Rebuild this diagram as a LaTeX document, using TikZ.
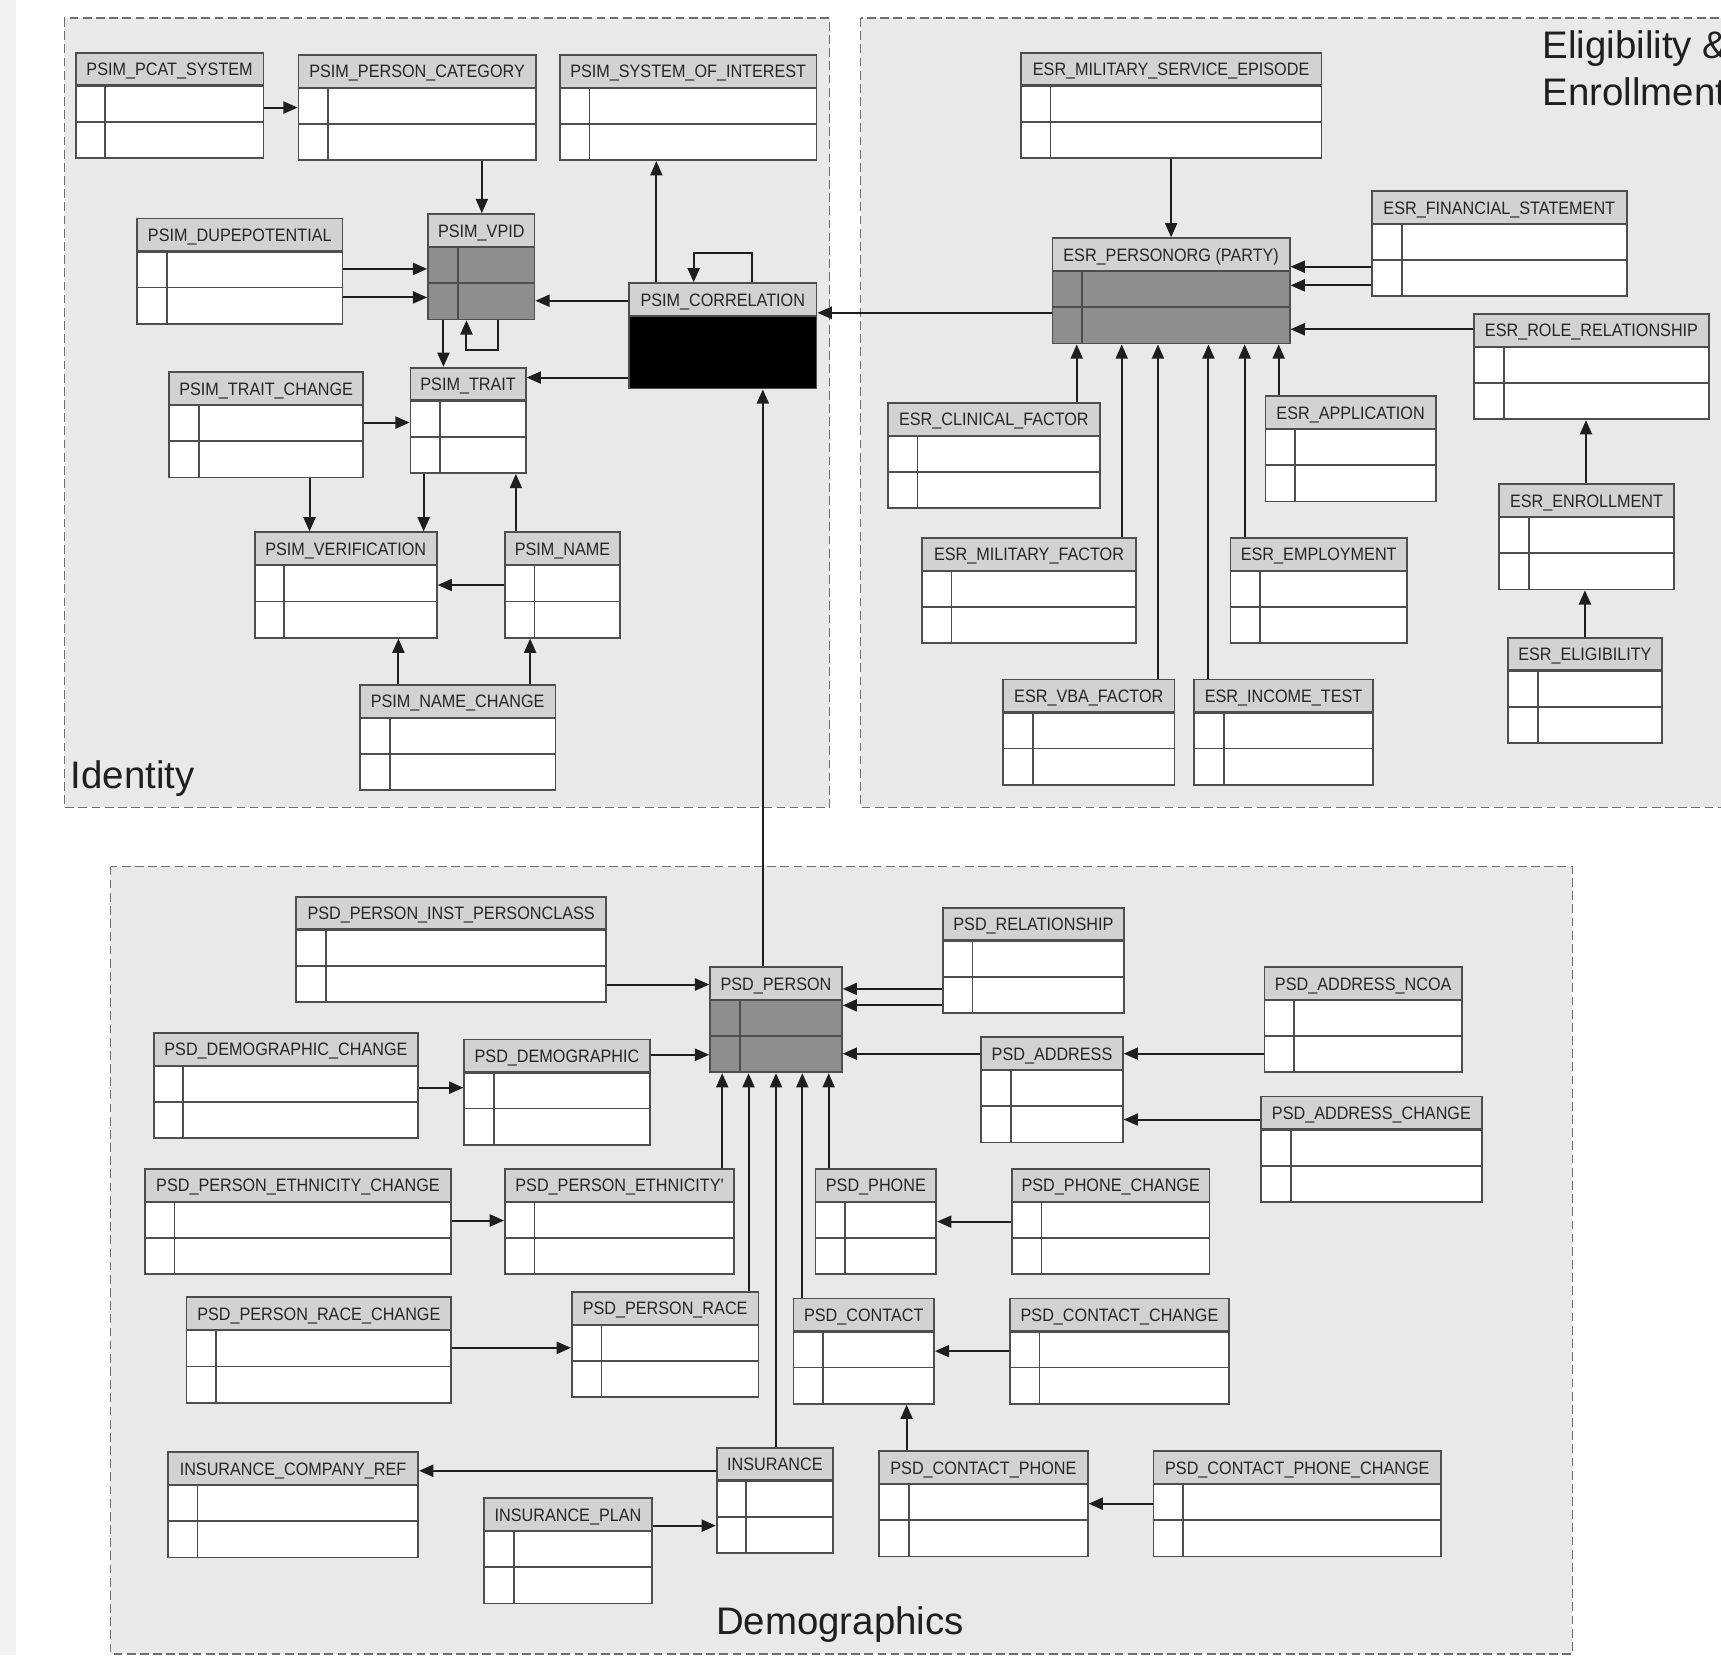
\documentclass[tikz,border=0pt]{standalone}
\usepackage{fontspec}
\setmainfont{Liberation Sans}
\newfontfamily\tabfont[FakeStretch=0.9]{Liberation Sans}
\usetikzlibrary{arrows.meta,fit}

\definecolor{grpfill}{HTML}{E9E9E9}
\definecolor{grpline}{HTML}{6E6E6E}
\definecolor{hdrfill}{HTML}{D2D2D2}
\definecolor{darkbody}{HTML}{8E8E8E}
\definecolor{tblline}{HTML}{4E4E4E}
\definecolor{connline}{HTML}{1E1E1E}
\definecolor{edgestrip}{HTML}{F2F2F2}

\tikzset{
  group/.style={draw=grpline, fill=grpfill, line width=0.55pt, dash pattern=on 4pt off 2pt},
  tbl/.style={draw=tblline, line width=0.8pt, inner sep=0pt},
  tblrule/.style={draw=tblline, line width=0.8pt},
  hdrrule/.style={draw=tblline, line width=1.1pt},
  conn/.style={draw=connline, line width=0.9pt, -{Triangle[length=6.5pt,width=5.5pt]}},
  title/.style={font=\tabfont\fontsize{8.2}{9}\selectfont, text=black!85, inner sep=0pt, anchor=base},
  biglabel/.style={font=\fontsize{17.5}{21}\selectfont, text=black!88, inner sep=0pt, anchor=base west},
}

% table: name, left, top, right, title, body colour
\newcommand\dbtable[6]{%
  \fill[#6] (#2,{#3+30}) rectangle (#4,{#3+96});
  \fill[hdrfill] (#2,#3) rectangle (#4,{#3+30});
  \draw[tblrule] (#2,{#3+63}) -- (#4,{#3+63});
  \draw[tblrule] ({#2+27},{#3+30}) -- ({#2+27},{#3+96});
  \draw[hdrrule] (#2,{#3+30}) -- (#4,{#3+30});
  \node[tbl, fit={(#2,#3) (#4,{#3+96})}] (#1) {};
  \node[title] (#1-t) at ({(#2+#4)/2},{#3+21}) {#5};
}

\begin{document}
\begin{tikzpicture}[x=0.5pt,y=-0.5pt]
\useasboundingbox (0,0) rectangle (1568,1508);
\clip (0,0) rectangle (1568,1508);
\fill[white] (0,0) rectangle (1568,1508);
\fill[edgestrip] (0,0) rectangle (15,1508);

% subject areas
\path[group] (58.5,16.5) rectangle (756,735.5);
\path[group] (784,16.5) rectangle (1620,735.5);
\path[group] (101,789.5) rectangle (1432.5,1507);
\node[biglabel] (lblid) at (64,718) {Identity};
\node[biglabel] (lblesr1) at (1405,53) {Eligibility \&};
\node[biglabel] (lblesr2) at (1405,96) {Enrollment};
\node[biglabel] (lbldemo) at (652,1489.5) {Demographics};

% Identity tables
\dbtable{pcat}{69}{48}{240}{PSIM\_PCAT\_SYSTEM}{white}
\dbtable{pcateg}{272}{50}{488}{PSIM\_PERSON\_CATEGORY}{white}
\dbtable{soi}{510}{50}{744}{PSIM\_SYSTEM\_OF\_INTEREST}{white}
\dbtable{dupe}{125}{199}{312}{PSIM\_DUPEPOTENTIAL}{white}
\dbtable{vpid}{390}{195}{487}{PSIM\_VPID}{darkbody}
\begin{scope}[tblrule/.append style={draw=black}]
\dbtable{corr}{573}{258}{744}{PSIM\_CORRELATION}{black}
\end{scope}
\dbtable{trait}{374}{335}{479}{PSIM\_TRAIT}{white}
\dbtable{traitch}{154}{339}{331}{PSIM\_TRAIT\_CHANGE}{white}
\dbtable{verif}{232}{485}{398}{PSIM\_VERIFICATION}{white}
\dbtable{pname}{460}{485}{565}{PSIM\_NAME}{white}
\dbtable{namech}{328}{624}{506}{PSIM\_NAME\_CHANGE}{white}

% Eligibility & Enrollment tables
\dbtable{mse}{930}{48}{1204}{ESR\_MILITARY\_SERVICE\_EPISODE}{white}
\dbtable{finst}{1250}{174}{1482}{ESR\_FINANCIAL\_STATEMENT}{white}
\dbtable{party}{959}{217}{1175}{ESR\_PERSONORG (PARTY)}{darkbody}
\dbtable{rolerel}{1343}{286}{1557}{ESR\_ROLE\_RELATIONSHIP}{white}
\dbtable{clin}{809}{367}{1002}{ESR\_CLINICAL\_FACTOR}{white}
\dbtable{appl}{1153}{361}{1308}{ESR\_APPLICATION}{white}
\dbtable{enroll}{1366}{441}{1525}{ESR\_ENROLLMENT}{white}
\dbtable{milf}{840}{490}{1035}{ESR\_MILITARY\_FACTOR}{white}
\dbtable{employ}{1121}{490}{1282}{ESR\_EMPLOYMENT}{white}
\dbtable{elig}{1374}{581}{1514}{ESR\_ELIGIBILITY}{white}
\dbtable{vba}{914}{619}{1070}{ESR\_VBA\_FACTOR}{white}
\dbtable{income}{1088}{619}{1251}{ESR\_INCOME\_TEST}{white}

% Demographics tables
\dbtable{instpc}{270}{817}{552}{PSD\_PERSON\_INST\_PERSONCLASS}{white}
\dbtable{relat}{859}{827}{1024}{PSD\_RELATIONSHIP}{white}
\dbtable{person}{647}{881}{767}{PSD\_PERSON}{darkbody}
\dbtable{ncoa}{1152}{881}{1332}{PSD\_ADDRESS\_NCOA}{white}
\dbtable{democh}{140}{941}{381}{PSD\_DEMOGRAPHIC\_CHANGE}{white}
\dbtable{demo}{423}{947}{592}{PSD\_DEMOGRAPHIC}{white}
\dbtable{addr}{894}{945}{1023}{PSD\_ADDRESS}{white}
\dbtable{addrch}{1149}{999}{1350}{PSD\_ADDRESS\_CHANGE}{white}
\dbtable{ethch}{132}{1065}{411}{PSD\_PERSON\_ETHNICITY\_CHANGE}{white}
\dbtable{eth}{460}{1065}{669}{PSD\_PERSON\_ETHNICITY'}{white}
\dbtable{phone}{743}{1065}{853}{PSD\_PHONE}{white}
\dbtable{phonech}{922}{1065}{1102}{PSD\_PHONE\_CHANGE}{white}
\dbtable{racech}{170}{1182}{411}{PSD\_PERSON\_RACE\_CHANGE}{white}
\dbtable{race}{521}{1177}{691}{PSD\_PERSON\_RACE}{white}
\dbtable{contact}{723}{1183}{851}{PSD\_CONTACT}{white}
\dbtable{contactch}{920}{1183}{1120}{PSD\_CONTACT\_CHANGE}{white}
\dbtable{insco}{153}{1323}{381}{INSURANCE\_COMPANY\_REF}{white}
\dbtable{ins}{653}{1319}{759}{INSURANCE}{white}
\dbtable{cphone}{801}{1322}{991}{PSD\_CONTACT\_PHONE}{white}
\dbtable{cphonech}{1051}{1322}{1313}{PSD\_CONTACT\_PHONE\_CHANGE}{white}
\dbtable{insplan}{441}{1365}{594}{INSURANCE\_PLAN}{white}

% Identity relations
\draw[conn] (pcat.east |- 0,98) -- (pcateg.west |- 0,98);
\draw[conn] (pcateg.south -| 439,0) -- (vpid.north -| 439,0);
\draw[conn] (dupe.east |- 0,245) -- (vpid.west |- 0,245);
\draw[conn] (dupe.east |- 0,271) -- (vpid.west |- 0,271);
\draw[conn] (corr.west |- 0,274) -- (vpid.east |- 0,274);
\draw[conn] (vpid.south -| 454,0) -- ++(0,27) -| (vpid.south -| 425,0);
\draw[conn] (vpid.south -| 404,0) -- (trait.north -| 404,0);
\draw[conn] (corr.north -| 598,0) -- (soi.south -| 598,0);
\draw[conn] (corr.north -| 685,0) -- ++(0,-27) -| (corr.north -| 632,0);
\draw[conn] (corr.west |- 0,344) -- (trait.east |- 0,344);
\draw[conn] (party.west |- 0,285) -- (corr.east |- 0,285);
\draw[conn] (person.north -| 695,0) -- (corr.south -| 695,0);
\draw[conn] (traitch.east |- 0,385) -- (trait.west |- 0,385);
\draw[conn] (traitch.south -| 282,0) -- (verif.north -| 282,0);
\draw[conn] (trait.south -| 386,0) -- (verif.north -| 386,0);
\draw[conn] (pname.north -| 470,0) -- (trait.south -| 470,0);
\draw[conn] (pname.west |- 0,533) -- (verif.east |- 0,533);
\draw[conn] (namech.north -| 363,0) -- (verif.south -| 363,0);
\draw[conn] (namech.north -| 483,0) -- (pname.south -| 483,0);

% Eligibility & Enrollment relations
\draw[conn] (mse.south -| 1067,0) -- (party.north -| 1067,0);
\draw[conn] (finst.west |- 0,243) -- (party.east |- 0,243);
\draw[conn] (finst.west |- 0,260) -- (party.east |- 0,260);
\draw[conn] (rolerel.west |- 0,300) -- (party.east |- 0,300);
\draw[conn] (clin.north -| 981,0) -- (party.south -| 981,0);
\draw[conn] (milf.north -| 1022,0) -- (party.south -| 1022,0);
\draw[conn] (vba.north -| 1055,0) -- (party.south -| 1055,0);
\draw[conn] (income.north -| 1101,0) -- (party.south -| 1101,0);
\draw[conn] (employ.north -| 1134,0) -- (party.south -| 1134,0);
\draw[conn] (appl.north -| 1165,0) -- (party.south -| 1165,0);
\draw[conn] (enroll.north -| 1445,0) -- (rolerel.south -| 1445,0);
\draw[conn] (elig.north -| 1444,0) -- (enroll.south -| 1444,0);

% Demographics relations
\draw[conn] (instpc.east |- 0,897) -- (person.west |- 0,897);
\draw[conn] (relat.west |- 0,901) -- (person.east |- 0,901);
\draw[conn] (relat.west |- 0,916) -- (person.east |- 0,916);
\draw[conn] (demo.east |- 0,961) -- (person.west |- 0,961);
\draw[conn] (democh.east |- 0,991) -- (demo.west |- 0,991);
\draw[conn] (addr.west |- 0,960) -- (person.east |- 0,960);
\draw[conn] (ncoa.west |- 0,960) -- (addr.east |- 0,960);
\draw[conn] (addrch.west |- 0,1020) -- (addr.east |- 0,1020);
\draw[conn] (eth.north -| 658,0) -- (person.south -| 658,0);
\draw[conn] (race.north -| 682,0) -- (person.south -| 682,0);
\draw[conn] (ins.north -| 707,0) -- (person.south -| 707,0);
\draw[conn] (contact.north -| 731,0) -- (person.south -| 731,0);
\draw[conn] (phone.north -| 755,0) -- (person.south -| 755,0);
\draw[conn] (ethch.east |- 0,1112) -- (eth.west |- 0,1112);
\draw[conn] (phonech.west |- 0,1113) -- (phone.east |- 0,1113);
\draw[conn] (racech.east |- 0,1228) -- (race.west |- 0,1228);
\draw[conn] (contactch.west |- 0,1231) -- (contact.east |- 0,1231);
\draw[conn] (cphone.north -| 826,0) -- (contact.south -| 826,0);
\draw[conn] (cphonech.west |- 0,1370) -- (cphone.east |- 0,1370);
\draw[conn] (ins.west |- 0,1340) -- (insco.east |- 0,1340);
\draw[conn] (insplan.east |- 0,1390) -- (ins.west |- 0,1390);
\end{tikzpicture}
\end{document}
